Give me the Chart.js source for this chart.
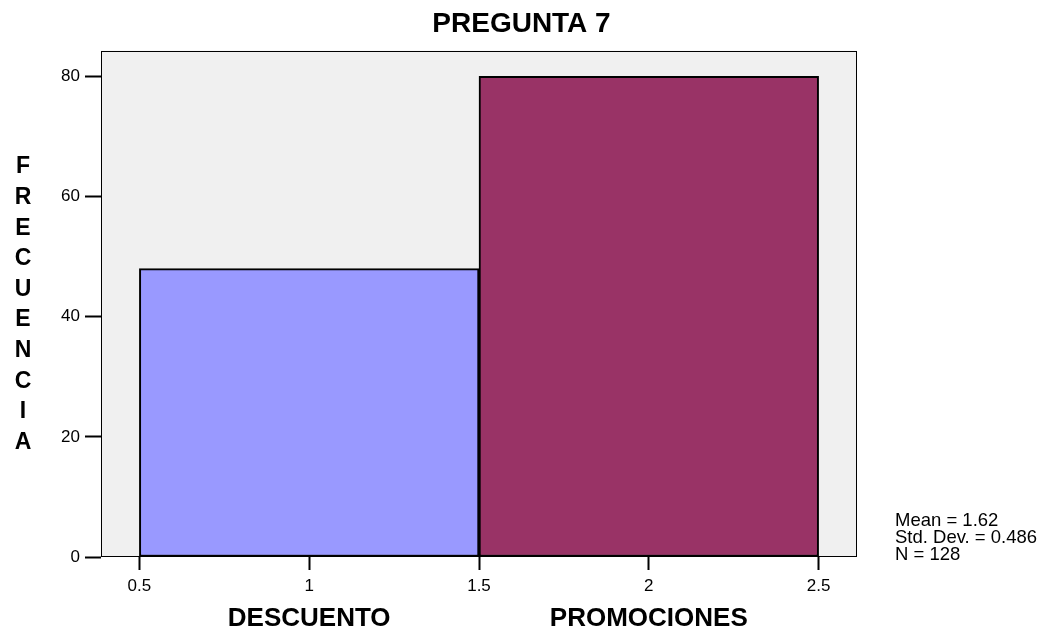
<!DOCTYPE html>
<html>
<head>
<meta charset="utf-8">
<script src="https://cdn.jsdelivr.net/npm/chart.js@4"></script>
<style>
  html, body { margin: 0; padding: 0; background: #fff; }
  #wrap { width: 1043px; height: 635px; }
</style>
</head>
<body>
<div id="wrap"><canvas id="chart"></canvas></div>
<script>
// Histogram data
const binCenters = [1, 2];
const frequencies = [48, 80];
const categoryNames = ['DESCUENTO', 'PROMOCIONES'];
const barColors = ['#9999FF', '#993366'];
const yAxisLetters = ['F', 'R', 'E', 'C', 'U', 'E', 'N', 'C', 'I', 'A'];
const statsLines = ['Mean = 1.62', 'Std. Dev. = 0.486', 'N = 128'];
const xRange = [0.387, 2.613];
const yRange = [0, 84.3];

const FONT = "'Liberation Sans', Arial, sans-serif";

// plot frame, vertical axis title and the stats box
const framePlugin = {
  id: 'frame',
  beforeDraw(chart) {
    const { ctx, chartArea: a } = chart;
    ctx.save();
    ctx.fillStyle = '#F0F0F0';
    ctx.fillRect(a.left, a.top, a.right - a.left, a.bottom - a.top);
    ctx.restore();
  },
  afterDatasetsDraw(chart) {
    const { ctx, chartArea: a } = chart;
    ctx.save();
    ctx.strokeStyle = '#000';
    ctx.lineWidth = 1;
    const l = Math.round(a.left) + 0.5, t = Math.round(a.top) + 0.5;
    const r = Math.round(a.right) - 0.5, b = Math.round(a.bottom) - 0.5;
    ctx.strokeRect(l, t, r - l, b - t);
    ctx.restore();
  },
  afterDraw(chart) {
    const { ctx, chartArea: a } = chart;
    ctx.save();
    ctx.fillStyle = '#000';
    ctx.textAlign = 'center';
    ctx.textBaseline = 'middle';
    ctx.font = 'bold 23px ' + FONT;
    yAxisLetters.forEach((ch, i) => ctx.fillText(ch, 23, 167 + i * 30.6));

    ctx.textAlign = 'left';
    ctx.font = '18.5px ' + FONT;
    statsLines.forEach((s, i) => ctx.fillText(s, a.right + 38, 521 + i * 17));
    ctx.restore();
  }
};

new Chart(document.getElementById('chart'), {
  type: 'bar',
  plugins: [framePlugin],
  data: {
    datasets: [{
      data: binCenters.map((x, i) => ({ x: x, y: frequencies[i] })),
      backgroundColor: barColors,
      borderColor: '#000',
      borderWidth: 2,
      borderSkipped: false,
      barThickness: 'flex',
      categoryPercentage: 1,
      barPercentage: 1
    }]
  },
  options: {
    responsive: true,
    maintainAspectRatio: false,
    animation: false,
    layout: { padding: 0 },
    scales: {
      x: {
        type: 'linear',
        position: 'bottom',
        weight: 0,
        min: xRange[0],
        max: xRange[1],
        offset: false,
        grid: {
          offset: false,
          drawOnChartArea: false,
          drawTicks: true,
          tickLength: 13,
          tickColor: '#000',
          tickWidth: 2
        },
        border: { display: false },
        ticks: {
          stepSize: 0.5,
          includeBounds: false,
          color: '#000',
          padding: 6,
          maxRotation: 0,
          font: { family: FONT, size: 17 },
          callback: (value) => String(Math.round(value * 10) / 10)
        },
        afterFit(scale) { scale.height = 40; }
      },
      names: {
        type: 'linear',
        position: 'bottom',
        weight: 1,
        min: xRange[0],
        max: xRange[1],
        offset: false,
        grid: { display: false, drawTicks: false },
        border: { display: false },
        afterBuildTicks(scale) {
          scale.ticks = binCenters.map(v => ({ value: v }));
        },
        ticks: {
          color: '#000',
          padding: 6,
          maxRotation: 0,
          autoSkip: false,
          font: { family: FONT, size: 26, weight: 'bold' },
          callback: (value, index) => categoryNames[index]
        },
        afterFit(scale) { scale.height = 38; }
      },
      y: {
        min: yRange[0],
        max: yRange[1],
        grid: {
          drawOnChartArea: false,
          drawTicks: true,
          tickLength: 16,
          tickColor: '#000',
          tickWidth: 2
        },
        border: { display: false },
        ticks: {
          stepSize: 20,
          includeBounds: false,
          color: '#000',
          padding: 5,
          font: { family: FONT, size: 17 }
        },
        afterFit(scale) { scale.width = 101; }
      },
      pad: {
        type: 'linear',
        position: 'right',
        grid: { display: false },
        border: { display: false },
        ticks: { display: false },
        afterFit(scale) { scale.width = 186; }
      }
    },
    plugins: {
      legend: { display: false },
      tooltip: { enabled: false },
      title: {
        display: true,
        text: 'PREGUNTA 7',
        color: '#000',
        font: { family: FONT, size: 28, weight: 'bold', lineHeight: 1.2 },
        padding: { top: 7, bottom: 10 }
      }
    }
  }
});
</script>
</body>
</html>
